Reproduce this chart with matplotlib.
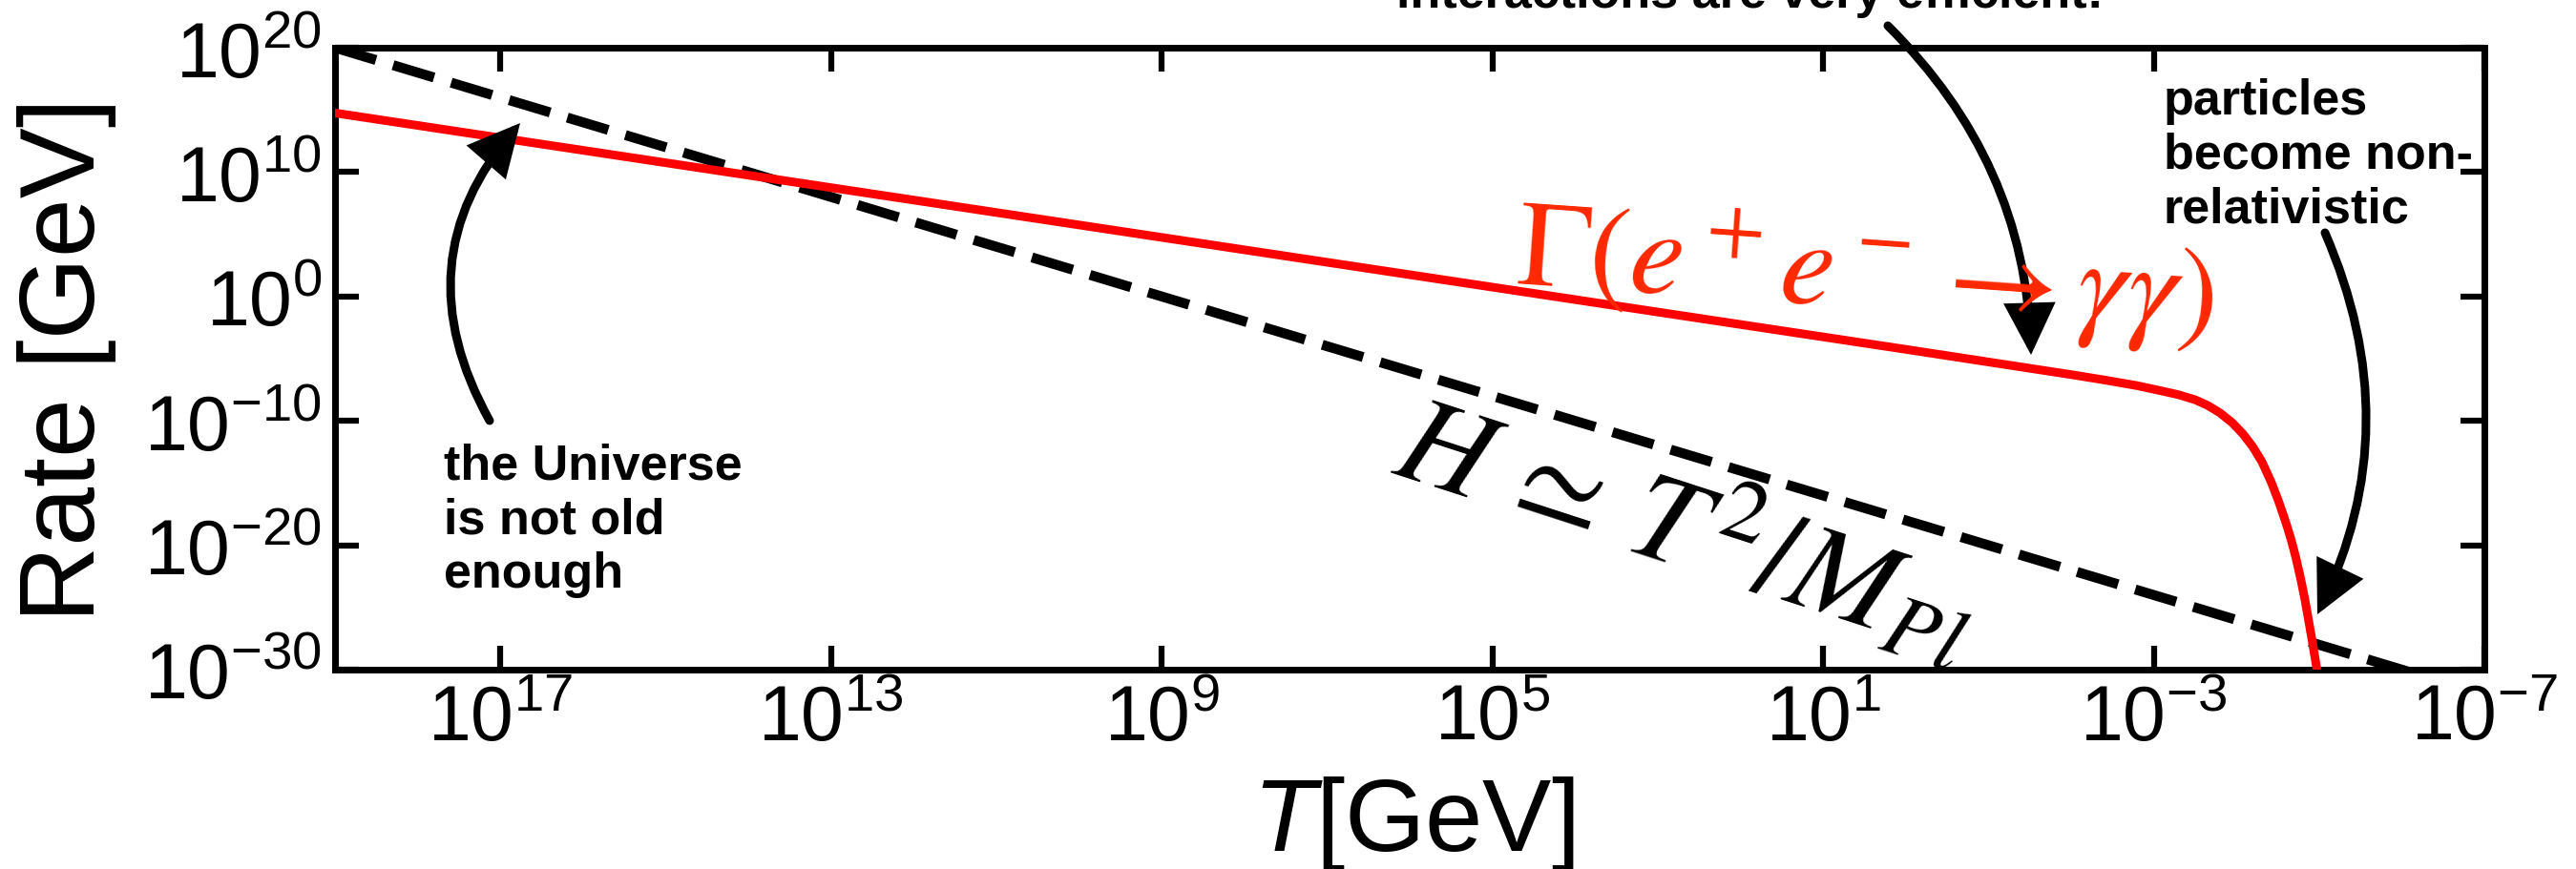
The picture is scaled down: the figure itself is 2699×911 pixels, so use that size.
import numpy as np
import matplotlib
matplotlib.use("Agg")
import matplotlib.pyplot as plt

# ---------------- data ----------------
# interaction rate Gamma(e+e- -> gamma gamma), log10 values
logT_gamma = [19.0, 10.0, 0.0, -2.0, -2.4, -2.8, -3.1, -3.3, -3.5, -3.65,
              -3.8, -3.95, -4.08, -4.2, -4.31, -4.42, -4.51, -4.6, -4.66,
              -4.72, -4.78, -4.83, -4.87, -4.92, -4.96, -5.02]
logG_gamma = [14.75, 5.75, -4.25, -6.28, -6.71, -7.17, -7.6, -7.9, -8.3, -8.75,
              -9.35, -10.15, -11.05, -12.1, -13.3, -14.9, -16.45, -18.2, -19.5,
              -21.0, -22.75, -24.4, -25.9, -27.8, -29.4, -31.9]
# Hubble rate H ~ T^2/M_Pl, log10 values
logT_hubble = [19.0, -6.2]
logH_hubble = [20.0, -30.4]

x_ticks = [1e17, 1e13, 1e9, 1e5, 1e1, 1e-3, 1e-7]
x_tick_labels = [r'$10^{17}$', r'$10^{13}$', r'$10^{9}$', r'$10^{5}$',
                 r'$10^{1}$', r'$10^{-3}$', r'$10^{-7}$']
y_ticks = [1e-30, 1e-20, 1e-10, 1e0, 1e10, 1e20]
y_tick_labels = [r'$10^{-30}$', r'$10^{-20}$', r'$10^{-10}$', r'$10^{0}$',
                 r'$10^{10}$', r'$10^{20}$']
x_limits = (1e19, 1e-7)
y_limits = (1e-30, 1e20)

T_gamma = 10.0 ** np.array(logT_gamma)
G_gamma = 10.0 ** np.array(logG_gamma)
T_hubble = 10.0 ** np.array(logT_hubble)
H_hubble = 10.0 ** np.array(logH_hubble)

# ---------------- style ----------------
plt.rcParams['font.family'] = ['Liberation Sans', 'DejaVu Sans']
plt.rcParams['mathtext.fontset'] = 'custom'
plt.rcParams['mathtext.rm'] = 'Liberation Sans'
plt.rcParams['mathtext.it'] = 'Liberation Sans:italic'
plt.rcParams['mathtext.bf'] = 'Liberation Sans:bold'

W, H = 2699, 912
DPI = 100
fig = plt.figure(figsize=(W / DPI, H / DPI), dpi=DPI)
fig.patch.set_facecolor('white')
ax = fig.add_axes([351 / W, (H - 703) / H, (2603 - 351) / W, (703 - 51) / H])

ax.plot(T_hubble, H_hubble, color='k', lw=7.5, linestyle=(0, (4.3, 1.8)), zorder=2)
ax.plot(T_gamma, G_gamma, color='#ff0000', lw=6.5, zorder=3,
        solid_joinstyle='round')

ax.set_xscale('log')
ax.set_yscale('log')
ax.set_xlim(x_limits)
ax.set_ylim(y_limits)
ax.set_xticks(x_ticks)
ax.set_xticklabels(x_tick_labels)
ax.set_yticks(y_ticks)
ax.set_yticklabels(y_tick_labels)
ax.minorticks_off()
ax.tick_params(which='major', direction='in', length=18, width=4.5,
               top=True, right=True, labelsize=58, pad=10)
for s in ax.spines.values():
    s.set_linewidth(5)

# axis labels
fig.text(1481 / W, (H - 892) / H, r'$\mathit{T}$[GeV]', ha='center', va='baseline',
         fontsize=78)
fig.text(70 / W, 1 - 377 / H, 'Rate [GeV]', rotation=90, ha='center', va='center',
         fontsize=80)

# formulas
fig.text(1588 / W, 1 - 298 / H, r'$\Gamma(e^+e^- \rightarrow \gamma\gamma)$',
         color='#ff2800', fontsize=92, rotation=-4, rotation_mode='anchor',
         ha='left', va='baseline', math_fontfamily='stix')
fig.text(1455 / W, 1 - 497 / H, r'$H\,\simeq\,T^2/M_{Pl}$',
         color='k', fontsize=95, rotation=-18, rotation_mode='anchor',
         ha='left', va='baseline', math_fontfamily='stix')

# annotation texts
ann_font = dict(fontsize=37.5, fontweight='bold', color='k', ha='left')
fig.text(465 / W, 1 - 465 / H, 'the Universe\nis not old\nenough', va='top',
         linespacing=1.2, **ann_font)
fig.text(2267 / W, 1 - 82 / H, 'particles\nbecome non-\nrelativistic', va='top',
         linespacing=1.2, **ann_font)
fig.text(1463 / W, 1 - 8 / H, 'interactions are very efficient!', va='baseline',
         **ann_font)


def curved_arrow(tail, tip, rad):
    ax.annotate('', xy=(tip[0], H - tip[1]), xycoords='figure pixels',
                xytext=(tail[0], H - tail[1]), textcoords='figure pixels',
                arrowprops=dict(arrowstyle='-|>,head_length=0.4,head_width=0.2',
                                mutation_scale=72, lw=6.5, color='k',
                                shrinkA=0, shrinkB=0, joinstyle='miter',
                                connectionstyle=f'arc3,rad={rad}'))


curved_arrow((513, 442), (545, 130), -0.35)
curved_arrow((1978, 28), (2128, 373), -0.2)
curved_arrow((2436, 245), (2428, 645), -0.23)

fig.savefig('out.png', dpi=DPI, facecolor='white')
